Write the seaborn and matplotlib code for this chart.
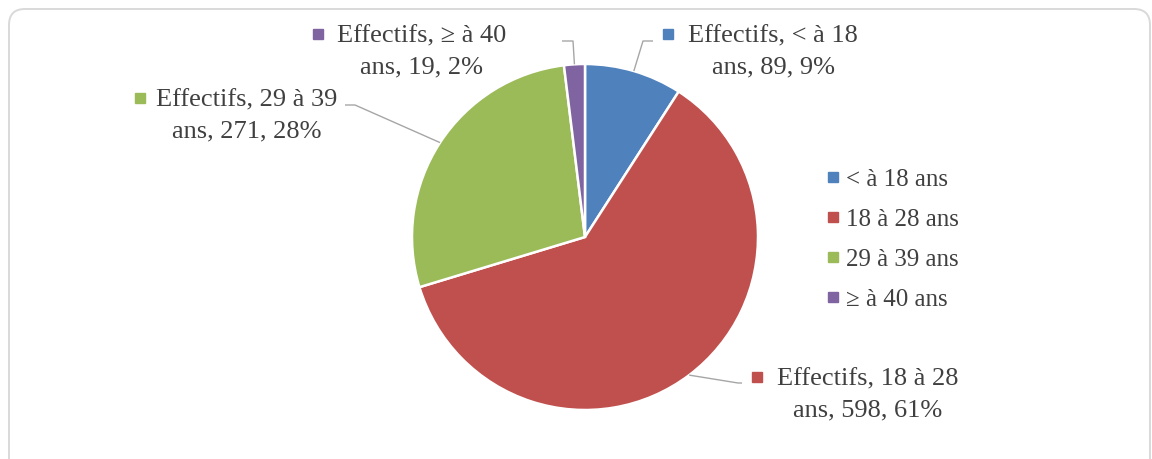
import numpy as np
import matplotlib
matplotlib.use("Agg")
import matplotlib.pyplot as plt
from matplotlib.lines import Line2D
from matplotlib.patches import FancyBboxPatch
import seaborn as sns

# Age groups and head counts
categories = ["< à 18 ans", "18 à 28 ans", "29 à 39 ans", "≥ à 40 ans"]
label_heads = ["Effectifs, < à 18", "Effectifs, 18 à 28", "Effectifs, 29 à 39", "Effectifs, ≥ à 40"]
counts = [89, 598, 271, 19]
colors = ["#4F81BD", "#C0504D", "#9BBB59", "#8064A2"]

sns.set_theme(style="white")
plt.rcParams["font.family"] = ["Liberation Serif", "DejaVu Serif"]
TXT = "#404040"
FS = 19

W, H = 1152, 459
fig = plt.figure(figsize=(W / 100, H / 100), dpi=100)
fig.patch.set_facecolor("white")

ax = fig.add_axes([0, 0, 1, 1])
ax.set_facecolor("none")

# rounded frame around the chart area (axes units are pixels)
frame = FancyBboxPatch((9, 9), W - 11, H + 20,
                       boxstyle="round,pad=0,rounding_size=16",
                       facecolor="none", edgecolor="#d9d9d9",
                       linewidth=1.4, zorder=0, clip_on=False)
ax.add_patch(frame)

cx, cy, r = 585, 237, 173
wedges, _ = ax.pie(counts, colors=sns.color_palette(colors), startangle=-90,
                   counterclock=True, center=(cx, cy), radius=r,
                   wedgeprops=dict(edgecolor="white", linewidth=1.8))
ax.set_xlim(0, W)
ax.set_ylim(H, 0)
ax.set_aspect("auto")
ax.axis("off")

total = sum(counts)
pcts = [round(100 * c / total) for c in counts]

# label layout: (text centre x, first line y, marker x, elbow point, stub end)
layout = [
    (773, 33, 668, (643, 41), (653, 41)),
    (868, 376, 757, (738, 383), (742, 383)),
    (247, 97, 140, (355, 105), (345, 105)),
    (422, 33, 318, (573, 41), (562, 41)),
]

for w, head, c, p, col, (tx, ty, mx, elbow, stub) in zip(
        wedges, label_heads, counts, pcts, colors, layout):
    mid = np.deg2rad((w.theta1 + w.theta2) / 2)
    ex, ey = cx + r * np.cos(mid), cy + r * np.sin(mid)
    ax.plot([ex, elbow[0], stub[0]], [ey, elbow[1], stub[1]],
            color="#a6a6a6", lw=1.0, solid_capstyle="butt")
    ax.text(tx, ty + 18.5, f"{head}\nans, {c}, {p}%", ha="center", va="center",
            multialignment="center", fontsize=FS, color=TXT, linespacing=1.53)
    ax.plot([mx], [ty + 1], marker="s", markersize=6.5, color=col, linestyle="none")

handles = [Line2D([], [], marker="s", linestyle="none", markersize=6.5,
                  color=col) for col in colors]
leg = ax.legend(handles, categories, loc="upper left",
                bbox_to_anchor=(815 / W, 1 - 158 / H), frameon=False,
                fontsize=FS - 1, handlelength=0.6, handletextpad=0.26,
                labelspacing=0.7, borderaxespad=0)
for t in leg.get_texts():
    t.set_color(TXT)

fig.savefig("out.png", dpi=100, facecolor="white")
